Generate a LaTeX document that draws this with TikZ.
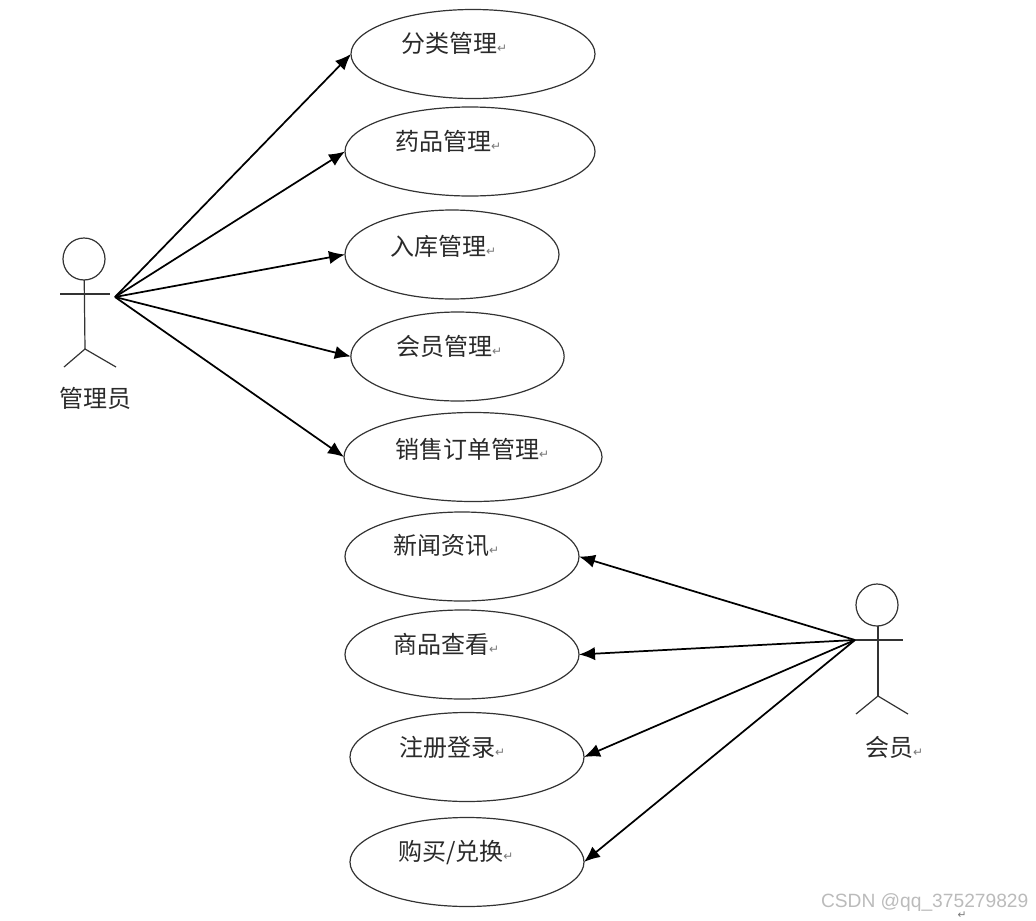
\documentclass[tikz,border=0pt]{standalone}
\usepackage{fontspec}
\usepackage{tikz}
\usetikzlibrary{shapes.geometric, arrows.meta, positioning, calc}
\usepackage{xcolor}
\setmainfont{Liberation Sans}
\newfontfamily\cjk{Noto Sans CJK SC}
\newfontfamily\symfont{DejaVu Sans}
\definecolor{usecaseline}{HTML}{333333}
\definecolor{usecasetext}{HTML}{2A2A2A}
\definecolor{retgray}{HTML}{777777}
\definecolor{markgray}{HTML}{BBBBBB}
\newcommand{\retmark}{{\symfont\fontsize{9pt}{9pt}\selectfont\textcolor{retgray}{↵}}}

\begin{document}
\begin{tikzpicture}[
    x=0.75pt, y=-0.75pt,
    every node/.style={inner sep=0pt, outer sep=0pt},
    usecase/.style={draw=usecaseline, ellipse, line width=0.9pt, minimum height=66.75pt},
    lbl/.style={font=\cjk\fontsize{18pt}{18pt}\selectfont, text=usecasetext, anchor=west, text height=14pt, text depth=3pt},
    limb/.style={draw=usecaseline, line width=0.9pt},
    arrow/.style={-{Latex[length=12pt, width=10pt]}, line width=1.3pt, draw=black},
    head/.style={draw=usecaseline, circle, line width=0.9pt, minimum size=31.5pt}
]
    \useasboundingbox (0,0) rectangle (1036,921);

    % Admin use cases
    \node[usecase, minimum width=183pt] (category) at (473,54) {};
    \node[usecase, minimum width=187.5pt] (medicine) at (470,151.5) {};
    \node[usecase, minimum width=160.5pt] (stock) at (452,254.5) {};
    \node[usecase, minimum width=160pt] (member) at (457.5,356.5) {};
    \node[usecase, minimum width=193.5pt] (orders) at (473,457) {};

    % Member use cases
    \node[usecase, minimum width=175.5pt] (news) at (462,556.5) {};
    \node[usecase, minimum width=175.5pt] (goods) at (462,654.5) {};
    \node[usecase, minimum width=175.5pt] (register) at (467,757) {};
    \node[usecase, minimum width=175.5pt] (buy) at (467,862) {};

    % Use case labels
    \node[lbl] (categorytxt) at (401,45) {分类管理\retmark};
    \node[lbl] (medicinetxt) at (395,143) {药品管理\retmark};
    \node[lbl] (stocktxt) at (390,248) {入库管理\retmark};
    \node[lbl] (membertxt) at (396,348) {会员管理\retmark};
    \node[lbl] (orderstxt) at (395,451) {销售订单管理\retmark};
    \node[lbl] (newstxt) at (393,547) {新闻资讯\retmark};
    \node[lbl] (goodstxt) at (393,646) {商品查看\retmark};
    \node[lbl] (registertxt) at (399,749) {注册登录\retmark};
    \node[lbl] (buytxt) at (398,853) {购买/兑换\retmark};

    % Admin actor
    \node[head] (adminhead) at (84,259) {};
    \coordinate (adminhip) at (85,349);
    \coordinate (adminhand) at (115,297);
    \draw[limb] (adminhead) -- (adminhip);
    \draw[limb] (60,294) -- (110,294);
    \draw[limb] (64,367) -- (adminhip) -- (116,367);
    \node[lbl] (admintxt) at (60,400) {管理员};

    % Member actor
    \node[head] (userhead) at (877,605) {};
    \coordinate (userhip) at (878,696);
    \coordinate (userhand) at (855,640);
    \draw[limb] (userhead.south -| userhip) -- (userhip);
    \draw[limb] (userhand) -- (903,640);
    \draw[limb] (856,714) -- (userhip) -- (908,714);
    \node[lbl] (usertxt) at (865,749) {会员\retmark};

    % Arrows
    \draw[arrow] (adminhand) -- (category.west);
    \draw[arrow] (adminhand) -- (medicine.west);
    \draw[arrow] (adminhand) -- (stock.west);
    \draw[arrow] (adminhand) -- (member.west);
    \draw[arrow] (adminhand) -- (orders.west);
    \draw[arrow] (userhand) -- (news.east);
    \draw[arrow] (userhand) -- (goods.east);
    \draw[arrow] (userhand) -- (register.east);
    \draw[arrow] (userhand) -- (buy.east);

    % Watermark
    \node[anchor=west, text=markgray, font=\fontsize{14.4pt}{15pt}\selectfont] (mark) at (821,903) {CSDN @qq\_375279829};
    \node[text=retgray, font=\symfont\fontsize{8pt}{8pt}\selectfont] (markret) at (962,915) {↵};
\end{tikzpicture}
\end{document}
